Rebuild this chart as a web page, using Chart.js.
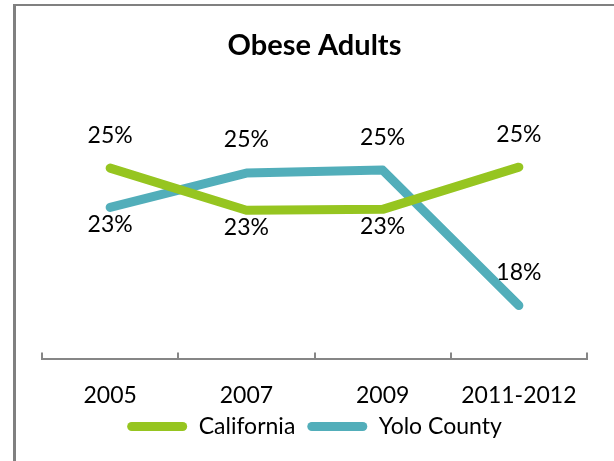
<!DOCTYPE html>
<html>
<head>
<meta charset="utf-8">
<script src="https://cdn.jsdelivr.net/npm/chart.js@4"></script>
<style>
  html, body { margin: 0; padding: 0; background: #fff; }
  .wrap { position: relative; width: 614px; height: 461px; overflow: hidden; }
  .frame { position: absolute; left: 13px; top: 4px; width: 700px; height: 600px;
           border-left: 3px solid #808080; border-top: 2px solid #808080; }
  canvas { position: absolute; left: 0; top: 0; }
</style>
</head>
<body>
<div class="wrap">
  <div class="frame"></div>
  <canvas id="chart" width="614" height="461"></canvas>
</div>
<script>
// data
const years = ['2005', '2007', '2009', '2011-2012'];
const california = [25.0, 22.85, 22.9, 25.05];
const yolo = [23.0, 24.75, 24.9, 18.0];

const green = '#96C520';
const teal = '#52AEBA';
const font = 'Lato';

// value labels above / below each point
const valueLabels = {
    id: 'valueLabels',
    afterDatasetsDraw(chart) {
        const ctx = chart.ctx;
        ctx.save();
        ctx.font = '23px ' + font;
        ctx.fillStyle = '#000';
        ctx.textAlign = 'center';
        ctx.textBaseline = 'middle';
        chart.data.datasets.forEach((ds, i) => {
            chart.getDatasetMeta(i).data.forEach((pt, j) => {
                const above = ds.labelSide[j] === 'above';
                ctx.fillText(Math.round(ds.data[j]) + '%', pt.x, pt.y + (above ? -33 : 17));
            });
        });
        ctx.restore();
    }
};

new Chart(document.getElementById('chart'), {
    type: 'line',
    data: {
        labels: years,
        datasets: [
            {
                label: 'California',
                data: california,
                borderColor: green,
                backgroundColor: green,
                labelSide: ['above', 'below', 'below', 'above']
            },
            {
                label: 'Yolo County',
                data: yolo,
                borderColor: teal,
                backgroundColor: teal,
                labelSide: ['below', 'above', 'above', 'above']
            }
        ]
    },
    options: {
        responsive: false,
        animation: false,
        events: [],
        elements: {
            line: { borderWidth: 9, tension: 0, borderCapStyle: 'round', borderJoinStyle: 'round', fill: false },
            point: { radius: 0 }
        },
        layout: { padding: { top: 0, left: 42, right: 27, bottom: 13 } },
        plugins: {
            title: {
                display: true,
                text: 'Obese Adults',
                color: '#000',
                font: { family: font, size: 29, weight: 'bold' },
                padding: { top: 28.6, bottom: 6.6 }
            },
            legend: {
                position: 'bottom',
                labels: {
                    color: '#000',
                    font: { family: font, size: 23 },
                    boxWidth: 60,
                    boxHeight: 9,
                    padding: 12,
                    useBorderRadius: true,
                    borderRadius: 4.5,
                    generateLabels(chart) {
                        return Chart.defaults.plugins.legend.labels.generateLabels(chart)
                            .map(item => Object.assign(item, { lineWidth: 0 }));
                    }
                }
            },
            tooltip: { enabled: false }
        },
        scales: {
            x: {
                offset: true,
                grid: { offset: true, drawOnChartArea: false, tickLength: -6, color: '#868686', lineWidth: 2 },
                border: { display: true, color: '#868686', width: 2 },
                ticks: { color: '#000', font: { family: font, size: 23 }, padding: 29 },
                afterFit(scale) { scale.height = 44.5; }
            },
            y: {
                display: false,
                min: 15.3,
                max: 30
            }
        }
    },
    plugins: [valueLabels]
});
</script>
</body>
</html>
